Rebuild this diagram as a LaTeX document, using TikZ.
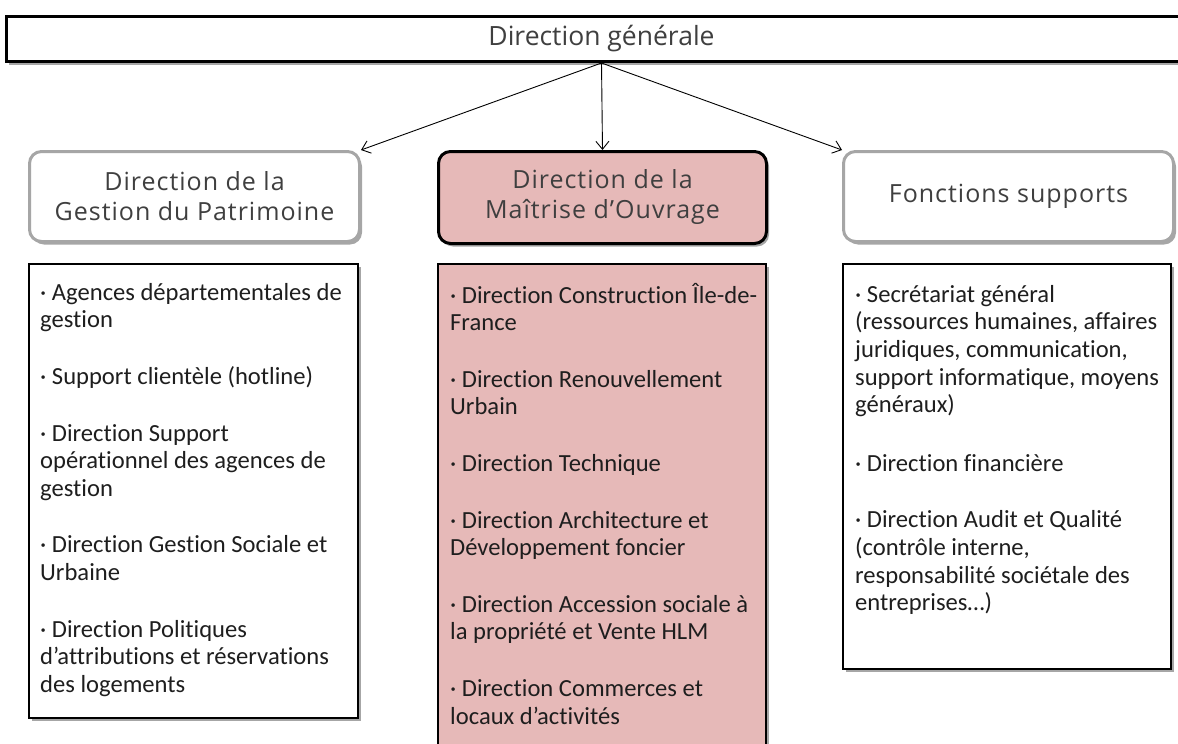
\documentclass[tikz,border=0pt]{standalone}
\usepackage{fontspec}
\setmainfont[Ligatures={NoCommon}]{Carlito}
\newfontfamily\titlefont{Open Sans}
\newfontfamily\headfont[LetterSpace=4]{Open Sans}
\usetikzlibrary{shadows,arrows.meta}
\definecolor{pinkfill}{HTML}{E6B9B8}
\definecolor{graybd}{HTML}{A6A6A6}
\definecolor{txtgray}{HTML}{3F3F3F}
\definecolor{bodytxt}{HTML}{1E1E1E}
\begin{document}
\begin{tikzpicture}[x=1pt,y=-1pt,
  shad/.style={drop shadow={shadow xshift=2.5pt,shadow yshift=-3pt,opacity=0.35,fill=black}},
  topbox/.style={draw=black,line width=3pt,fill=white,shad,minimum width=1190pt,minimum height=45pt,
    anchor=north west,inner sep=0pt,font=\titlefont\fontsize{26.5}{30}\selectfont,text=txtgray},
  headbox/.style={rounded corners=12pt,line width=3pt,minimum height=90pt,anchor=north west,
    inner sep=0pt,align=center,font=\headfont\fontsize{25}{30}\selectfont,text=txtgray,shad},
  sidehead/.style={headbox,draw=graybd,fill=white,minimum width=330pt},
  mainhead/.style={headbox,draw=black,fill=pinkfill,minimum width=328pt,minimum height=92pt},
  listbox/.style={draw=black,line width=2pt,anchor=north west,inner sep=0pt,shad,minimum width=329pt},
  listtext/.style={anchor=north west,inner sep=0pt,align=left,text=bodytxt,
    font=\fontsize{24.6}{27.6}\selectfont},
  link/.style={line width=0.9pt,-{Straight Barb[length=8pt,width=13pt]}}
]
\useasboundingbox (0,0) rectangle (1178,744);
\fill[white] (0,0) rectangle (1178,744);

\node[topbox] (dg) at (5,15) {Direction générale};

\node[sidehead] (gp) at (28,150) {Direction de la\\Gestion du Patrimoine};
\node[mainhead] (mo) at (437,150) {Direction de la\\Maîtrise d’Ouvrage};
\node[sidehead] (fs) at (842,150) {Fonctions supports};

\draw[link] (dg.south) -- (gp.north east);
\draw[link] (dg.south) -- (mo.north);
\draw[link] (dg.south) -- (fs.north west);

\node[listbox,fill=white,minimum height=454pt] (lb) at (28,263) {};
\node[listbox,fill=pinkfill,minimum height=500pt,minimum width=328pt] (mb) at (437,263) {};
\node[listbox,fill=white,minimum height=405pt,minimum width=328pt] (rb) at (842,263) {};

\node[listtext] (lt) at (40,280.7) {\strut· Agences départementales de\\
gestion\\[29pt]
· Support clientèle (hotline)\\[29pt]
· Direction Support\\
opérationnel des agences de\\
gestion\\[29pt]
· Direction Gestion Sociale et\\
Urbaine\\[29pt]
· Direction Politiques\\
d’attributions et réservations\\
des logements};

\node[listtext] (mt) at (450,282.7) {\strut· Direction Construction Île-de-\\
France\\[29pt]
· Direction Renouvellement\\
Urbain\\[29pt]
· Direction Technique\\[29pt]
· Direction Architecture et\\
Développement foncier\\[29pt]
· Direction Accession sociale à\\
la propriété et Vente HLM\\[29pt]
· Direction Commerces et\\
locaux d’activités};

\node[listtext] (rt) at (855,282.7) {\strut· Secrétariat général\\
(ressources humaines, affaires\\
juridiques, communication,\\
support informatique, moyens\\
généraux)\\[31pt]
· Direction financière\\[29pt]
· Direction Audit et Qualité\\
(contrôle interne,\\
responsabilité sociétale des\\
entreprises…)};
\end{tikzpicture}
\end{document}
